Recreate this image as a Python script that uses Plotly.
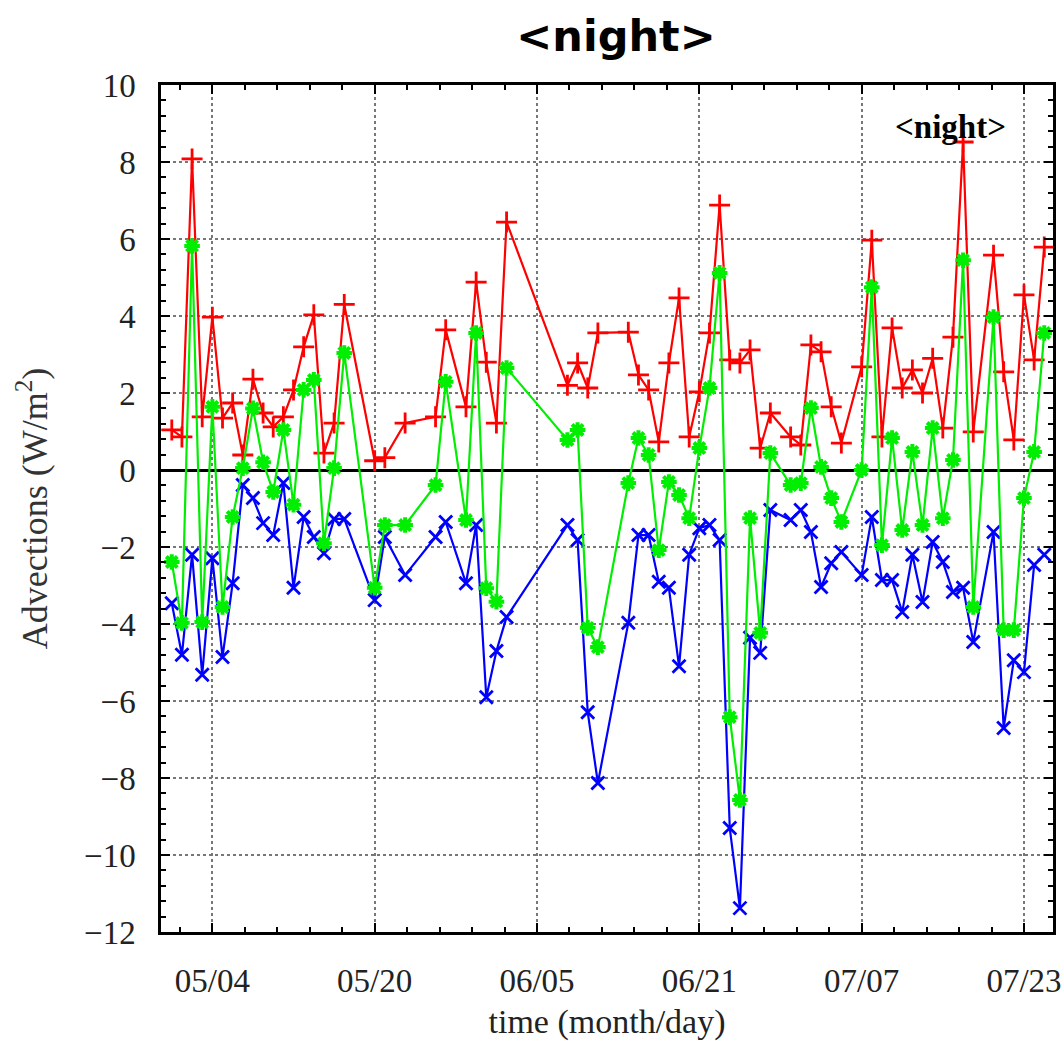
import plotly.graph_objects as go

dates = ["04-30", "05-01", "05-02", "05-03", "05-04", "05-05", "05-06", "05-07", "05-08", "05-09",
         "05-10", "05-11", "05-12", "05-13", "05-14", "05-15", "05-16", "05-17",
         "05-20", "05-21", "05-23",
         "05-26", "05-27", "05-29", "05-30", "05-31", "06-01", "06-02",
         "06-08", "06-09", "06-10", "06-11",
         "06-14", "06-15", "06-16", "06-17", "06-18", "06-19", "06-20", "06-21", "06-22", "06-23",
         "06-24", "06-25", "06-26", "06-27", "06-28",
         "06-30", "07-01", "07-02", "07-03", "07-04", "07-05",
         "07-07", "07-08", "07-09", "07-10", "07-11", "07-12", "07-13", "07-14", "07-15", "07-16",
         "07-17", "07-18",
         "07-20", "07-21", "07-22", "07-23", "07-24", "07-25"]
x = ["2013-" + d for d in dates]

red = [1.04, 0.86, 8.08, 1.38, 3.97, 1.35, 1.74, 0.39, 2.36, 1.48,
       1.12, 1.38, 2.08, 3.2, 4.03, 0.44, 1.22, 4.3,
       0.24, 0.32, 1.22,
       1.38, 3.64, 1.64, 4.88, 2.8, 1.22, 6.44,
       2.2, 2.78, 2.13, 3.56,
       3.58, 2.47, 2.08, 0.73, 2.78, 4.47, 0.86, 2.03, 3.56, 6.88,
       2.86, 2.78, 3.12, 0.57, 1.48,
       0.86, 0.65, 3.25, 3.07, 1.64, 0.7,
       2.68, 5.97, 0.86, 3.69, 2.13, 2.6, 2.0, 2.9, 1.09, 3.45,
       8.52, 0.99,
       5.58, 2.55, 0.78, 4.55, 2.86, 5.79]

green = [-2.39, -3.97, 5.82, -3.95, 1.64, -3.56, -1.22, 0.05, 1.6, 0.2,
         -0.57, 1.04, -0.9, 2.08, 2.34, -1.9, 0.05, 3.04,
         -3.06, -1.43, -1.43,
         -0.39, 2.29, -1.3, 3.56, -3.07, -3.42, 2.65,
         0.78, 1.04, -4.1, -4.6,
         -0.34, 0.83, 0.39, -2.08, -0.31, -0.65, -1.25, 0.57, 2.13, 5.12,
         -6.42, -8.57, -1.25, -4.23, 0.44,
         -0.39, -0.34, 1.61, 0.08, -0.73, -1.35,
         0.0, 4.75, -1.95, 0.83, -1.56, 0.47, -1.43, 1.09, -1.25, 0.26,
         5.45, -3.56,
         3.97, -4.16, -4.16, -0.73, 0.47, 3.56]

blue = [-3.46, -4.8, -2.2, -5.32, -2.29, -4.86, -2.94, -0.39, -0.73, -1.38,
        -1.69, -0.34, -3.06, -1.22, -1.74, -2.16, -1.27, -1.27,
        -3.38, -1.74, -2.73,
        -1.74, -1.35, -2.94, -1.43, -5.9, -4.7, -3.82,
        -1.43, -1.82, -6.29, -8.13,
        -3.97, -1.69, -1.69, -2.9, -3.06, -5.1, -2.2, -1.51, -1.43, -1.82,
        -9.3, -11.38, -4.36, -4.75, -1.04,
        -1.3, -1.04, -1.61, -3.04, -2.42, -2.13,
        -2.73, -1.22, -2.86, -2.86, -3.69, -2.2, -3.43, -1.87, -2.39, -3.17,
        -3.06, -4.47,
        -1.61, -6.7, -4.94, -5.25, -2.47, -2.2]

y_ticks = [10, 8, 6, 4, 2, 0, -2, -4, -6, -8, -10, -12]
y_tick_text = ["10", "8", "6", "4", "2", "0", "\u22122", "\u22124", "\u22126", "\u22128", "\u221210", "\u221212"]

DAY = 86400000
serif = "Liberation Serif, Times New Roman, serif"

fig = go.Figure()
fig.add_trace(go.Scatter(x=x, y=red, mode="lines+markers", name="red",
                         line=dict(color="#ff0000", width=2.2),
                         marker=dict(symbol="cross-thin", size=15, line=dict(color="#ff0000", width=2.8))))
fig.add_trace(go.Scatter(x=x, y=blue, mode="lines+markers", name="blue",
                         line=dict(color="#0000ff", width=2.2),
                         marker=dict(symbol="x-thin", size=13, line=dict(color="#0000ff", width=2.8))))
fig.add_trace(go.Scatter(x=x, y=green, mode="lines+markers", name="green",
                         line=dict(color="#00ee00", width=2.2),
                         marker=dict(symbol="asterisk", size=13, line=dict(color="#00ee00", width=4))))

fig.update_layout(
    width=1064, height=1041,
    margin=dict(l=161, r=11, t=85, b=109),
    paper_bgcolor="white", plot_bgcolor="white",
    showlegend=False,
    title=dict(text="<b>&lt;night&gt;</b>", x=616 / 1064, xanchor="center",
               y=1 - 36 / 1041, yanchor="middle", yref="container",
               font=dict(family="DejaVu Sans", size=43, color="black")),
    annotations=[dict(text="<b>&lt;night&gt;</b>", xref="paper", yref="paper",
                      x=(950 - 161) / (1053 - 161), y=(932 - 127) / (932 - 85),
                      xanchor="center", yanchor="middle", showarrow=False,
                      font=dict(family=serif, size=33, color="black"))],
)

fig.update_xaxes(
    type="date", automargin=False,
    range=["2013-04-28 22:30", "2013-07-25 20:40"],
    tick0="2013-05-04", dtick=16 * DAY, tickformat="%m/%d",
    ticks="inside", ticklen=9, tickwidth=2, tickcolor="black",
    showline=True, linecolor="black", linewidth=2.5, mirror="allticks",
    showgrid=True, gridcolor="#777777", gridwidth=1.5, griddash="dot",
    minor=dict(tick0="2013-05-04", dtick=3.2 * DAY, ticks="inside", ticklen=5,
               tickwidth=1.5, tickcolor="black", showgrid=False),
    tickfont=dict(family=serif, size=33, color="#222"),
    ticklabelstandoff=18,
    title=dict(text="time (month/day)", font=dict(family=serif, size=34, color="#222"), standoff=22),
    zeroline=False,
)
fig.update_yaxes(
    automargin=False,
    range=[-12, 10], tickvals=y_ticks, ticktext=y_tick_text,
    ticks="inside", ticklen=9, tickwidth=2, tickcolor="black",
    showline=True, linecolor="black", linewidth=2.5, mirror="allticks",
    showgrid=True, gridcolor="#777777", gridwidth=1.5, griddash="dot",
    minor=dict(dtick=0.4, tick0=0, ticks="inside", ticklen=5, tickwidth=1.5,
               tickcolor="black", showgrid=False),
    tickfont=dict(family=serif, size=33, color="#222"),
    ticklabelstandoff=16,
    zeroline=True, zerolinecolor="black", zerolinewidth=3,
    title=dict(text="Advections (W/m<sup>2</sup>)", font=dict(family=serif, size=36, color="#333"), standoff=26),
)

fig.write_html("out.html")
